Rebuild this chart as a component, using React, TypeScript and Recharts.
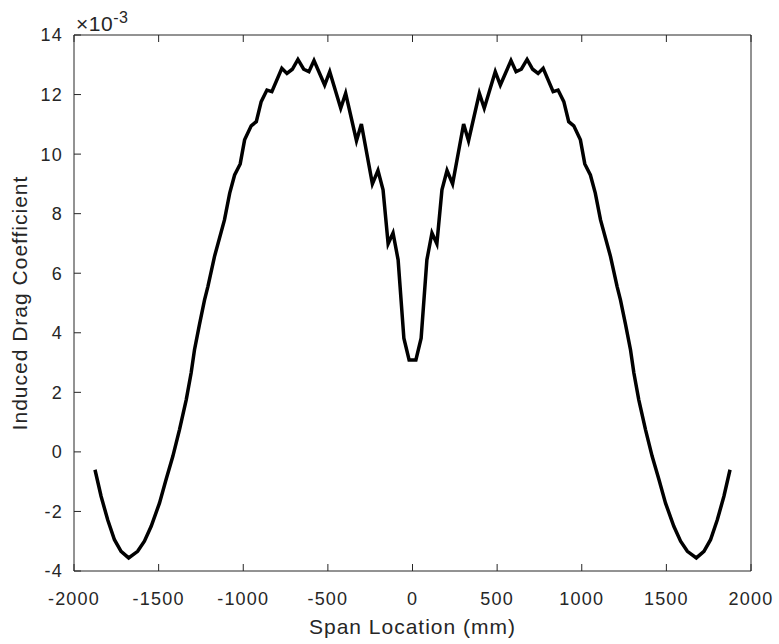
import React from 'react';
import { LineChart, Line, XAxis, YAxis, Label } from 'recharts';

// span positions (mm) and induced drag coefficient (x 10^-3)
const spanLocations = [
  -1876, -1840, -1801, -1761, -1722, -1677, -1624, -1584, -1544, -1495,
  -1456, -1416, -1377, -1337, -1308, -1288, -1258, -1229, -1209, -1170,
  -1111, -1080, -1051, -1018, -992, -953, -923, -894, -860, -831,
  -772, -742, -710, -677, -643, -612, -582, -519, -489, -424,
  -395, -331, -302, -237, -204, -174, -144, -115, -85, -51,
  -20, 20, 51, 85, 115, 144, 174, 204, 237, 302,
  331, 395, 424, 489, 519, 582, 612, 643, 677, 710,
  742, 772, 831, 860, 894, 923, 953, 992, 1018, 1051,
  1080, 1111, 1170, 1209, 1229, 1258, 1288, 1308, 1337, 1377,
  1416, 1456, 1495, 1544, 1584, 1624, 1677, 1722, 1761, 1801,
  1840, 1876,
];

const dragCoefficients = [
  -0.6, -1.49, -2.28, -2.95, -3.34, -3.56, -3.34, -3.0, -2.5, -1.72,
  -0.93, -0.15, 0.74, 1.75, 2.65, 3.43, 4.3, 5.1, 5.55, 6.56,
  7.79, 8.69, 9.3, 9.67, 10.48, 10.95, 11.09, 11.76, 12.15, 12.1,
  12.88, 12.71, 12.85, 13.18, 12.85, 12.77, 13.14, 12.32, 12.77, 11.54,
  12.04, 10.45, 11.01, 9.0, 9.45, 8.8, 6.99, 7.35, 6.45, 3.82,
  3.09, 3.09, 3.82, 6.45, 7.35, 6.99, 8.8, 9.45, 9.0, 11.01,
  10.45, 12.04, 11.54, 12.77, 12.32, 13.14, 12.77, 12.85, 13.18, 12.85,
  12.71, 12.88, 12.1, 12.15, 11.76, 11.09, 10.95, 10.48, 9.67, 9.3,
  8.69, 7.79, 6.56, 5.55, 5.1, 4.3, 3.43, 2.65, 1.75, 0.74,
  -0.15, -0.93, -1.72, -2.5, -3.0, -3.34, -3.56, -3.34, -2.95, -2.28,
  -1.49, -0.6,
];

const xTicks = [-2000, -1500, -1000, -500, 0, 500, 1000, 1500, 2000];
const yTicks = [-4, -2, 0, 2, 4, 6, 8, 10, 12, 14];

const data = spanLocations.map((x, i) => ({ x, cdi: dragCoefficients[i] }));

const axisColor = '#262626';
const font = '"Liberation Sans", Arial, sans-serif';
const TICK_LEN = 7;
const X_GAP = 21;
const Y_GAP = 11;

// MATLAB style: tick marks point into the plot box
const BottomTick = (props: any) => {
  const { x, y, payload } = props;
  const axisY = y - X_GAP;
  return (
    <g>
      <line x1={x} x2={x} y1={axisY} y2={axisY - TICK_LEN} stroke={axisColor} strokeWidth={1} />
      <text x={x} y={y} dy="0.71em" textAnchor="middle" fill={axisColor} fontSize={18} fontFamily={font} letterSpacing={1.2}>
        {payload.value}
      </text>
    </g>
  );
};

const LeftTick = (props: any) => {
  const { x, y, payload } = props;
  const axisX = x + Y_GAP;
  return (
    <g>
      <line x1={axisX} x2={axisX + TICK_LEN} y1={y} y2={y} stroke={axisColor} strokeWidth={1} />
      <text x={x} y={y} dy="0.355em" textAnchor="end" fill={axisColor} fontSize={18} fontFamily={font} letterSpacing={1.2}>
        {payload.value}
      </text>
    </g>
  );
};

const TopTick = (props: any) => {
  const { x, y } = props;
  return <line x1={x} x2={x} y1={y} y2={y + TICK_LEN} stroke={axisColor} strokeWidth={1} />;
};

const RightTick = (props: any) => {
  const { x, y } = props;
  return <line x1={x} x2={x - TICK_LEN} y1={y} y2={y} stroke={axisColor} strokeWidth={1} />;
};

const axisLine = { stroke: axisColor, strokeWidth: 1 };

const App: React.FC = () => {
  return (
    <div style={{ position: 'absolute', left: 0, top: 0, width: 779, height: 644, background: '#fff' }}>
      <LineChart width={779} height={644} data={data} margin={{ top: 34, right: 27, bottom: 0, left: 0 }}>
        <XAxis
          dataKey="x"
          type="number"
          domain={[-2000, 2000]}
          ticks={xTicks}
          height={73}
          axisLine={axisLine}
          tickLine={false}
          tickSize={0}
          tickMargin={X_GAP}
          tick={<BottomTick />}
          interval={0}
        >
          <Label
            value="Span Location (mm)"
            position="insideBottom"
            offset={10}
            style={{ fill: axisColor, fontSize: 21, fontFamily: font, letterSpacing: 1 }}
          />
        </XAxis>
        <XAxis
          xAxisId="top"
          dataKey="x"
          orientation="top"
          type="number"
          domain={[-2000, 2000]}
          ticks={xTicks}
          height={1}
          axisLine={axisLine}
          tickLine={false}
          tickSize={0}
          tickMargin={0}
          tick={<TopTick />}
          interval={0}
        />
        <YAxis
          type="number"
          domain={[-4, 14]}
          ticks={yTicks}
          width={74}
          axisLine={axisLine}
          tickLine={false}
          tickSize={0}
          tickMargin={Y_GAP}
          tick={<LeftTick />}
          interval={0}
        >
          <Label
            value="Induced Drag Coefficient"
            angle={-90}
            position="insideLeft"
            offset={20}
            style={{ fill: axisColor, fontSize: 21, fontFamily: font, letterSpacing: 1, textAnchor: 'middle' }}
          />
        </YAxis>
        <YAxis
          yAxisId="right"
          orientation="right"
          type="number"
          domain={[-4, 14]}
          ticks={yTicks}
          width={1}
          axisLine={axisLine}
          tickLine={false}
          tickSize={0}
          tickMargin={0}
          tick={<RightTick />}
          interval={0}
        />
        <Line
          dataKey="cdi"
          type="linear"
          stroke="#000"
          strokeWidth={3.5}
          dot={false}
          isAnimationActive={false}
        />
      </LineChart>
      <div
        style={{
          position: 'absolute',
          left: 76,
          top: 13,
          fontFamily: font,
          fontSize: 21,
          color: axisColor,
          lineHeight: '22px',
          letterSpacing: 0.5,
        }}
      >
        ×10<sup style={{ fontSize: 16, verticalAlign: 8, lineHeight: 0 }}>-3</sup>
      </div>
    </div>
  );
};

export default App;
